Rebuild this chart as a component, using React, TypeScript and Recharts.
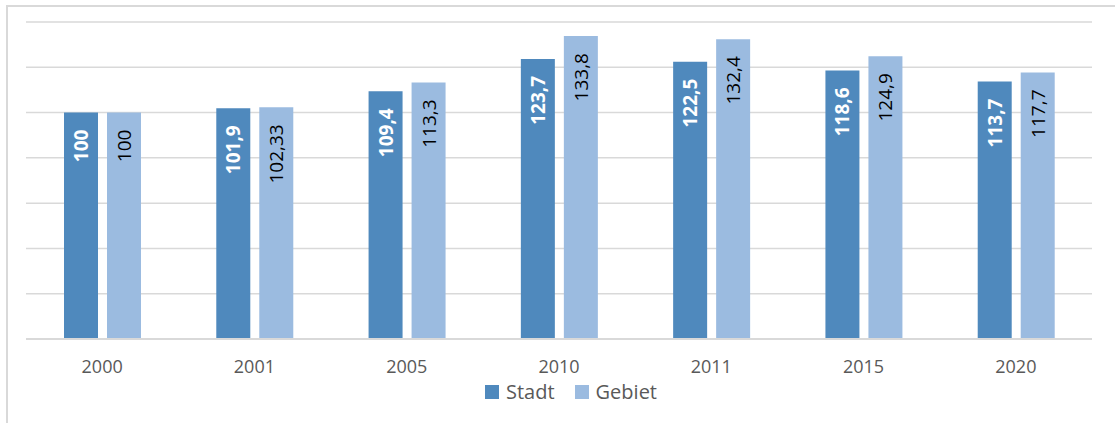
import React from 'react';
import { BarChart, Bar, XAxis, YAxis, CartesianGrid, Legend, LabelList } from 'recharts';

const years = ['2000', '2001', '2005', '2010', '2011', '2015', '2020'];
const stadt = [100, 101.9, 109.4, 123.7, 122.5, 118.6, 113.7];
const gebiet = [100, 102.33, 113.3, 133.8, 132.4, 124.9, 117.7];
const yTicks = [0, 20, 40, 60, 80, 100, 120, 140];

const series = [
  { key: 'stadt', name: 'Stadt', color: '#4f89bd', labelColor: '#ffffff', labelWeight: 700 },
  { key: 'gebiet', name: 'Gebiet', color: '#9bbbe0', labelColor: '#000000', labelWeight: 400 },
];

const data = years.map((year, i) => ({ year, stadt: stadt[i], gebiet: gebiet[i] }));

const FONT = '"Open Sans", "Noto Sans", sans-serif';

const fmt = (v: number) => String(v).replace('.', ',');

const makeLabel = (fill: string, weight: number) => (props: any) => {
  const { x, y, width, value } = props;
  const cx = Number(x) + Number(width) / 2;
  const ty = Number(y) + 17;
  return (
    <text
      x={cx}
      y={ty}
      transform={`rotate(-90 ${cx} ${ty})`}
      textAnchor="end"
      dominantBaseline="central"
      fill={fill}
      fontWeight={weight}
      fontSize={19}
      fontFamily={FONT}
    >
      {fmt(value)}
    </text>
  );
};

const LegendContent = () => (
  <div style={{ display: 'flex', alignItems: 'center', fontFamily: FONT, fontSize: 20, color: '#595959' }}>
    {series.map((s) => (
      <div key={s.key} style={{ display: 'flex', alignItems: 'center', marginRight: 20 }}>
        <span style={{ display: 'inline-block', width: 14, height: 14, background: s.color, marginRight: 7 }} />
        <span>{s.name}</span>
      </div>
    ))}
  </div>
);

export default function App() {
  return (
    <div style={{ position: 'fixed', left: 0, top: 0, width: 1115, height: 423, background: '#fff', overflow: 'hidden' }}>
      <div
        style={{
          position: 'absolute',
          left: 6,
          top: 5,
          width: 1200,
          height: 500,
          borderLeft: '2px solid #d9d9d9',
          borderTop: '2px solid #d9d9d9',
        }}
      />
      <div style={{ position: 'absolute', left: 0, top: 0 }}>
        <BarChart
          width={1115}
          height={423}
          data={data}
          margin={{ top: 22, right: 23, left: 26, bottom: 54 }}
          barSize={34}
          barGap={9}
        >
          <CartesianGrid vertical={false} stroke="#d9d9d9" strokeWidth={1.5} />
          <YAxis hide domain={[0, 140]} ticks={yTicks} />
          <XAxis
            dataKey="year"
            height={30}
            axisLine={{ stroke: '#d9d9d9', strokeWidth: 2 }}
            tickLine={false}
            tickSize={6}
            tickMargin={15}
            tick={{ fill: '#595959', fontSize: 18, fontFamily: FONT }}
          />
          <Legend
            layout="horizontal"
            verticalAlign="middle"
            align="center"
            content={<LegendContent />}
            wrapperStyle={{ left: 485, top: 378, width: 'auto' }}
          />
          {series.map((s) => (
            <Bar key={s.key} dataKey={s.key} name={s.name} fill={s.color} isAnimationActive={false}>
              <LabelList dataKey={s.key} content={makeLabel(s.labelColor, s.labelWeight)} />
            </Bar>
          ))}
        </BarChart>
      </div>
    </div>
  );
}
